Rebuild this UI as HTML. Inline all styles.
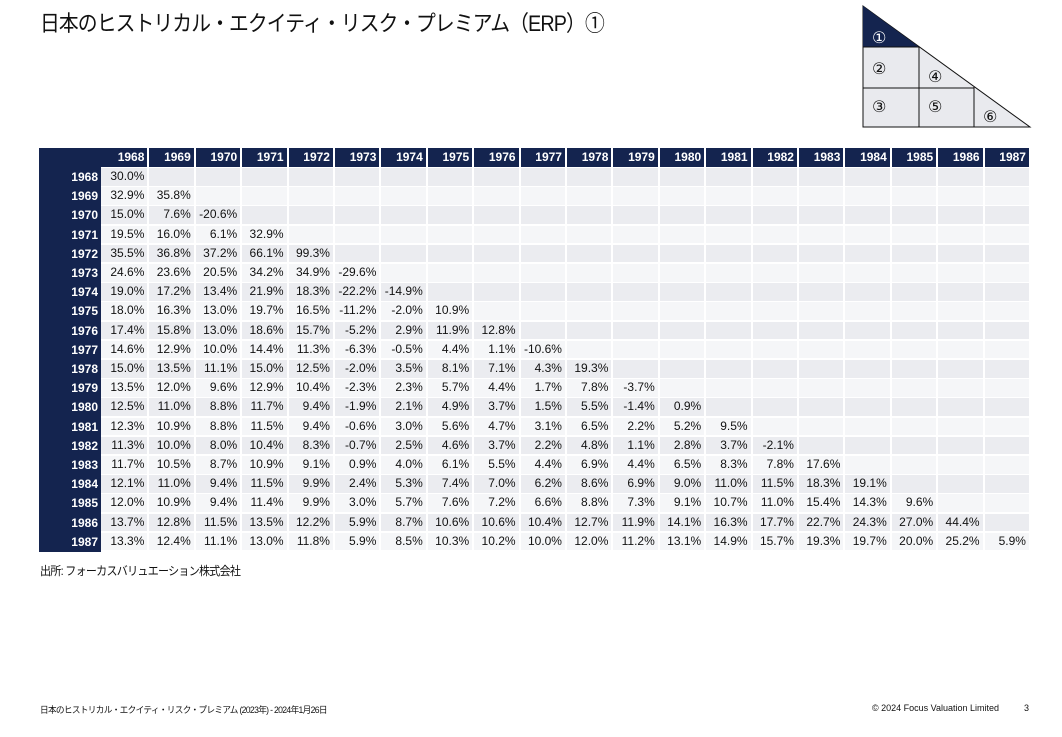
<!DOCTYPE html>
<html><head><meta charset="utf-8">
<style>
body{margin:0;width:1062px;height:737px;background:#fff;position:relative;overflow:hidden;font-family:"Liberation Sans","Noto Sans CJK JP",sans-serif;color:#111;}
.abs{position:absolute;white-space:nowrap;transform-origin:0 0;}
#title{left:40px;top:6px;font-size:22px;letter-spacing:-1px;transform:scaleX(0.9);}
#tbl{position:absolute;left:39px;top:148px;}
.c{position:absolute;box-sizing:border-box;font-size:12px;text-align:right;padding-right:3px;line-height:19px;}
.h{color:#fff;font-weight:bold;background:#14244f;}
#src{left:40px;top:562px;font-size:12px;letter-spacing:-0.8px;transform:scaleX(0.92);}
#foot{left:40px;top:703px;font-size:9px;letter-spacing:-0.7px;transform:scaleX(0.96);}
#copy{left:872px;top:703px;font-size:9px;letter-spacing:0;}
#pg{left:1024px;top:703px;font-size:9px;}
</style></head>
<body>
<div id="title" class="abs">日本のヒストリカル・エクイティ・リスク・プレミアム（ERP）①</div>

<svg class="abs" style="left:0;top:0" width="1062" height="140">
<polygon points="863,6 1030,127 863,127" fill="#e9eaee" stroke="#111" stroke-width="1"/>
<polygon points="863,6 919,47 863,47" fill="#14244f"/>
<line x1="863" y1="47" x2="919" y2="47" stroke="#111"/>
<line x1="919" y1="47" x2="919" y2="127" stroke="#111"/>
<line x1="863" y1="88" x2="974" y2="88" stroke="#111"/>
<line x1="974" y1="87" x2="974" y2="127" stroke="#111"/>
<g font-family="Liberation Sans, DejaVu Sans, sans-serif" font-size="16" fill="#111">
<text x="872" y="43" fill="#fff">①</text>
<text x="872" y="74">②</text>
<text x="928" y="82">④</text>
<text x="872" y="112">③</text>
<text x="928" y="112">⑤</text>
<text x="983" y="122">⑥</text>
</g>
</svg>

<div id="tbl"></div>

<div id="src" class="abs">出所: フォーカスバリュエーション株式会社</div>
<div id="foot" class="abs">日本のヒストリカル・エクイティ・リスク・プレミアム (2023年) - 2024年1月26日</div>
<div id="copy" class="abs">© 2024 Focus Valuation Limited</div>
<div id="pg" class="abs">3</div>

<script>
const years = [1968,1969,1970,1971,1972,1973,1974,1975,1976,1977,1978,1979,1980,1981,1982,1983,1984,1985,1986,1987];
const r1968 = [30.0];
const r1969 = [32.9,35.8];
const r1970 = [15.0,7.6,-20.6];
const r1971 = [19.5,16.0,6.1,32.9];
const r1972 = [35.5,36.8,37.2,66.1,99.3];
const r1973 = [24.6,23.6,20.5,34.2,34.9,-29.6];
const r1974 = [19.0,17.2,13.4,21.9,18.3,-22.2,-14.9];
const r1975 = [18.0,16.3,13.0,19.7,16.5,-11.2,-2.0,10.9];
const r1976 = [17.4,15.8,13.0,18.6,15.7,-5.2,2.9,11.9,12.8];
const r1977 = [14.6,12.9,10.0,14.4,11.3,-6.3,-0.5,4.4,1.1,-10.6];
const r1978 = [15.0,13.5,11.1,15.0,12.5,-2.0,3.5,8.1,7.1,4.3,19.3];
const r1979 = [13.5,12.0,9.6,12.9,10.4,-2.3,2.3,5.7,4.4,1.7,7.8,-3.7];
const r1980 = [12.5,11.0,8.8,11.7,9.4,-1.9,2.1,4.9,3.7,1.5,5.5,-1.4,0.9];
const r1981 = [12.3,10.9,8.8,11.5,9.4,-0.6,3.0,5.6,4.7,3.1,6.5,2.2,5.2,9.5];
const r1982 = [11.3,10.0,8.0,10.4,8.3,-0.7,2.5,4.6,3.7,2.2,4.8,1.1,2.8,3.7,-2.1];
const r1983 = [11.7,10.5,8.7,10.9,9.1,0.9,4.0,6.1,5.5,4.4,6.9,4.4,6.5,8.3,7.8,17.6];
const r1984 = [12.1,11.0,9.4,11.5,9.9,2.4,5.3,7.4,7.0,6.2,8.6,6.9,9.0,11.0,11.5,18.3,19.1];
const r1985 = [12.0,10.9,9.4,11.4,9.9,3.0,5.7,7.6,7.2,6.6,8.8,7.3,9.1,10.7,11.0,15.4,14.3,9.6];
const r1986 = [13.7,12.8,11.5,13.5,12.2,5.9,8.7,10.6,10.6,10.4,12.7,11.9,14.1,16.3,17.7,22.7,24.3,27.0,44.4];
const r1987 = [13.3,12.4,11.1,13.0,11.8,5.9,8.5,10.3,10.2,10.0,12.0,11.2,13.1,14.9,15.7,19.3,19.7,20.0,25.2,5.9];
const rows = [r1968,r1969,r1970,r1971,r1972,r1973,r1974,r1975,r1976,r1977,r1978,r1979,r1980,r1981,r1982,r1983,r1984,r1985,r1986,r1987];

const tbl = document.getElementById('tbl');
const LW = 62, CW = 46.4, HH = 19, RH = 19.2;
function cell(x,y,w,h,txt,cls,bg){
  const d=document.createElement('div');
  d.className='c '+cls;
  d.style.left=x+'px';d.style.top=y+'px';d.style.width=w+'px';d.style.height=h+'px';
  if(bg)d.style.background=bg;
  d.textContent=txt;
  tbl.appendChild(d);return d;
}
const corner=cell(0,0,LW,HH+RH*years.length+1,'','h');


years.forEach((y,i)=>{
  const h=cell(LW+i*CW,0,CW,HH,String(y),'h');
  h.style.borderLeft=i>0?'2px solid #fff':'0';
  
  
});
years.forEach((y,r)=>{
  const top=HH+1+r*RH;
  const lab=cell(0,top,LW,RH,String(y),'h','transparent');
  
  
  const bg = r%2===0?'#ebecf0':'#f5f6f8';
  years.forEach((cy,c)=>{
    const v=rows[r][c];
    const d=cell(LW+c*CW,top,CW,RH-1.5,v===undefined?'':v.toFixed(1)+'%','',bg);
    if(c>0)d.style.borderLeft='2px solid #fff';
    d.style.lineHeight=(RH-1.5)+'px';
    
    
  });
});
</script>
</body></html>
